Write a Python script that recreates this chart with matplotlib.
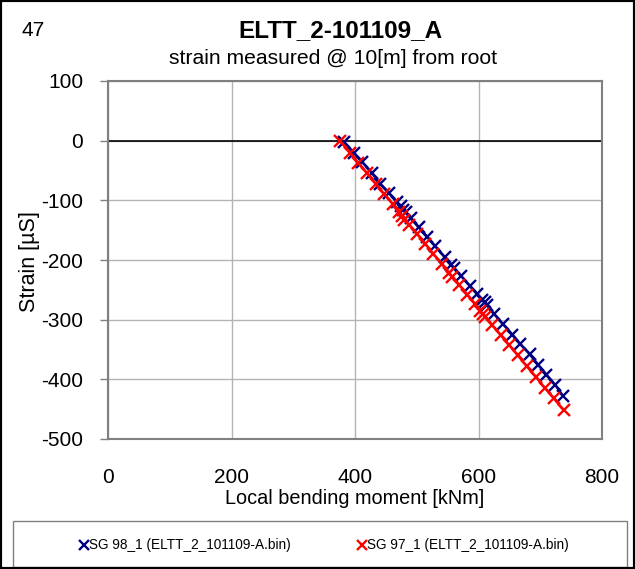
import matplotlib
matplotlib.use("Agg")
import matplotlib.pyplot as plt
from matplotlib.patches import Rectangle
from matplotlib.lines import Line2D

plt.rcParams['font.family'] = ['Liberation Sans', 'DejaVu Sans']
plt.rcParams['axes.unicode_minus'] = False

# SG 98_1: local bending moment [kNm] vs strain [uS]
sg98_moment = [382, 398, 412, 428, 441, 455, 468, 474, 478, 482, 490, 503, 517, 530, 545, 556,
               560, 572, 586, 598, 606, 610, 614, 625, 640, 655, 668, 683, 697, 710, 724, 737]
sg98_strain = [-2, -20, -36, -55, -72, -88, -103, -110, -116, -120, -130, -145, -161, -177, -195, -208,
               -213, -227, -243, -257, -267, -271, -276, -290, -308, -325, -341, -358, -376, -392, -409, -428]

# SG 97_1
sg97_moment = [375, 392, 405, 420, 434, 447, 461, 472, 476, 480, 488, 501, 514, 527, 541, 552,
               557, 569, 582, 594, 603, 607, 611, 622, 636, 650, 664, 678, 693, 707, 722, 738]
sg97_strain = [0, -20, -37, -55, -73, -89, -106, -120, -126, -133, -141, -157, -173, -190, -207, -221,
               -228, -242, -258, -273, -286, -290, -296, -309, -326, -343, -360, -378, -396, -414, -432, -452]

x_ticks = [0, 200, 400, 600, 800]
y_ticks = [100, 0, -100, -200, -300, -400, -500]

label98 = "SG 98_1 (ELTT_2_101109-A.bin)"
label97 = "SG 97_1 (ELTT_2_101109-A.bin)"
blue = "#000080"
red = "#ff0000"

fig = plt.figure(figsize=(6.35, 5.69), dpi=100)
ax = fig.add_axes([108/635, 1 - 439/569, 494/635, 358/569])

ax.plot(sg98_moment, sg98_strain, color=blue, lw=1.8, marker='x', ms=9, mew=1.7, zorder=3)
ax.plot(sg97_moment, sg97_strain, color=red, lw=1.8, marker='x', ms=9, mew=1.7, zorder=4)

ax.set_xlim(0, 800)
ax.set_ylim(-500, 100)
ax.set_xticks(x_ticks)
ax.set_yticks(y_ticks)
ax.grid(True, color="#b4b4b4", lw=1.0)
ax.set_axisbelow(True)
ax.axhline(0, color="black", lw=1.2, zorder=2)
for s in ax.spines.values():
    s.set_color("#808080")
    s.set_linewidth(1.5)
ax.tick_params(axis='both', colors="#808080", labelcolor="black", labelsize=15,
               direction='out', width=1)
ax.tick_params(axis='y', length=6, pad=12)
ax.tick_params(axis='x', length=0, pad=21)

fig.text(355/635, 1 - 498/569, "Local bending moment [kNm]", ha='center', va='center',
         fontsize=14.3)
fig.text(30/635, 1 - 262/569, "Strain [\u00b5S]", ha='center', va='center',
         rotation=90, fontsize=15.5)

fig.text(340/635, 1 - 31/569, "ELTT_2-101109_A", ha='center', va='center',
         fontsize=17.5, fontweight='bold')
fig.text(333/635, 1 - 58/569, "strain measured @ 10[m] from root", ha='center', va='center',
         fontsize=15.2)
fig.text(22/635, 1 - 30/569, "47", ha='left', va='center', fontsize=15)

# legend box
fig.patches.append(Rectangle((13/635, 1 - 567/569), 614/635, 46/569, transform=fig.transFigure,
                             fill=False, edgecolor="#808080", lw=1.0))
fig.lines.append(Line2D([84/635], [1 - 545/569], transform=fig.transFigure, color=blue,
                        marker='x', ms=6.5, mew=1.7, ls='none'))
fig.text(89/635, 1 - 545/569, label98, ha='left', va='center', fontsize=9.8)
fig.lines.append(Line2D([362/635], [1 - 545/569], transform=fig.transFigure, color=red,
                        marker='x', ms=6.5, mew=1.7, ls='none'))
fig.text(367/635, 1 - 545/569, label97, ha='left', va='center', fontsize=9.8)

# outer frame
fig.patches.append(Rectangle((0, 0), 1, 1, transform=fig.transFigure, fill=False,
                             edgecolor="black", lw=3))

fig.savefig("out.png", dpi=100)
